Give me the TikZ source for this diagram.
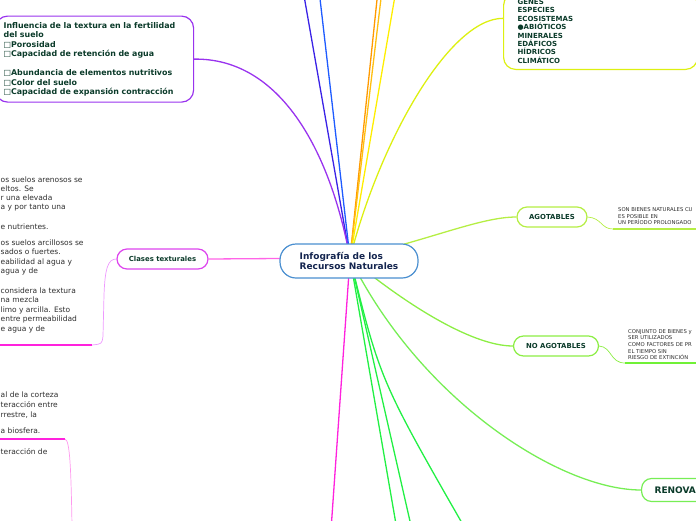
\documentclass[tikz,border=0pt]{standalone}
\usepackage{fontspec}
\setmainfont{DejaVu Sans}
\definecolor{txtgreen}{HTML}{0B3B2A}
\definecolor{bodygray}{HTML}{2E2E2E}
\definecolor{hubblue}{HTML}{4A8FD0}
\definecolor{hubtext}{HTML}{14254F}
\definecolor{fertviolet}{HTML}{9933EE}
\definecolor{lineviolet}{HTML}{3A22E6}
\definecolor{lineblue}{HTML}{1E5BFF}
\definecolor{lineorange}{HTML}{FF9A00}
\definecolor{lineamber}{HTML}{FFBF10}
\definecolor{lineyellow}{HTML}{FFEE00}
\definecolor{geneslime}{HTML}{DDF011}
\definecolor{agolime}{HTML}{B5EE44}
\definecolor{noagogreen}{HTML}{8CEE44}
\definecolor{renogreen}{HTML}{77EE55}
\definecolor{linegreen}{HTML}{22F044}
\definecolor{clasemag}{HTML}{DD44EE}
\definecolor{linemag}{HTML}{FF22DD}
\definecolor{softmag}{HTML}{EE99FF}
\definecolor{softpink}{HTML}{FF99EE}
\tikzset{
  branch/.style={line width=1.3pt},
  twig/.style={line width=0.7pt},
  topic/.style={draw, fill=white, line width=1.2pt, rounded corners=10pt, text=txtgreen,
    font=\bfseries\fontsize{6.9}{8.4}\selectfont},
  body/.style={anchor=west, inner sep=0pt, text=bodygray, font=\fontsize{7.5}{9}\selectfont},
  tiny/.style={anchor=south west, align=left, inner sep=0pt, text=bodygray,
    font=\fontsize{5.3}{6.6}\selectfont},
}
\begin{document}
\begin{tikzpicture}[x=1pt,y=-1pt]
\useasboundingbox (0,0) rectangle (696,520);
\clip (0,0) rectangle (696,520);

\coordinate (hub) at (350,258);

% loose ends off the page
\coordinate (up1) at (303,-10);
\coordinate (up2) at (319,-10);
\coordinate (up3) at (378,-10);
\coordinate (up4) at (382,-10);
\coordinate (up5) at (396,-10);
\coordinate (down1) at (331,530);
\coordinate (down2) at (397,530);
\coordinate (down3) at (412,530);
\coordinate (down4) at (466,530);

\draw [branch, lineviolet] (hub) -- (up1);
\draw [branch, lineblue] (hub) -- (up2);
\draw [branch, lineorange] (hub) -- (up3);
\draw [branch, lineamber] (hub) -- (up4);
\draw [branch, lineyellow] (hub) -- (up5);

\draw [branch, linemag] (hub) -- (down1);
\draw [branch, linegreen] (hub) -- (down2);
\draw [branch, linegreen] (hub) -- (down3);
\draw [branch, linegreen] (hub) .. controls (380,380) .. (down4);

% topics
\node [topic, draw=fertviolet, anchor=north west, align=left, text width=182pt,
  inner xsep=8pt, inner ysep=2pt, minimum height=86pt, rounded corners=12pt,
  font=\bfseries\fontsize{7.9}{9.5}\selectfont] (fertilidad) at (-5,15.5)
  {Influencia de la textura en la fertilidad\\del suelo\\□Porosidad\\□Capacidad de retención de agua\\[9.5pt]□Abundancia de elementos nutritivos\\□Color del suelo\\□Capacidad de expansión contracción};

\node [topic, draw=geneslime, anchor=south west, align=left, text width=166pt,
  inner xsep=14pt, inner ysep=6pt, rounded corners=12pt,
  font=\bfseries\fontsize{7}{8.4}\selectfont] (genes) at (503,70)
  {GENES\\ESPECIES\\ECOSISTEMAS\\●ABIÓTICOS\\MINERALES\\EDÁFICOS\\HÍDRICOS\\CLIMÁTICO};

\node [topic, draw=agolime, minimum width=70pt, minimum height=20pt] (agotables) at (552,217) {AGOTABLES};
\node [topic, draw=noagogreen, minimum width=85pt, minimum height=20pt] (noagotables) at (556,346) {NO AGOTABLES};
\node [topic, draw=renogreen, anchor=west, inner xsep=13pt, minimum height=23pt,
  font=\bfseries\fontsize{9}{10}\selectfont] (renovables) at (641,490) {RENOVA};
\node [topic, draw=clasemag, minimum width=91pt, minimum height=20pt] (clases) at (162.5,259) {Clases texturales};

% connectors
\draw [branch, fertviolet] (fertilidad.east) .. controls (280,58) and (330,150) .. (hub);
\draw [branch, geneslime] (hub) .. controls (380,140) and (450,18) .. ([yshift=13pt]genes.west);
\draw [branch, agolime] (hub) .. controls (430,240) and (480,217) .. (agotables.west);
\draw [branch, noagogreen] (hub) .. controls (400,300) and (470,346) .. (noagotables.west);
\draw [branch, renogreen] (hub) .. controls (420,400) and (560,490) .. (renovables.west);
\draw [branch, linemag!70!white] (hub) -- (clases.east);

\node [draw=hubblue, line width=1.2pt, fill=white, rounded corners=16pt, minimum width=138pt,
  minimum height=34pt, align=left, text=hubtext,
  font=\bfseries\fontsize{9}{10.5}\selectfont] (recursos) at (349,261) {Infografía de los\\Recursos Naturales};

% notes on the right
\coordinate (agoline) at (613,229);
\coordinate (agoend) at (700,229);
\draw [twig, agolime] (agotables.east) .. controls (602,218) and (601,229) .. (agoline);
\draw [branch, agolime] (agoline) -- (agoend);
\node [tiny] (agonote) at (618,225) {SON BIENES NATURALES CU\\ES POSIBLE EN\\UN PERÍODO PROLONGADO};

\coordinate (noagoline) at (625,363);
\coordinate (noagoend) at (700,363);
\draw [twig, noagogreen] (noagotables.east) .. controls (612,347) and (610,363) .. (noagoline);
\draw [branch, noagogreen!80!green] (noagoline) -- (noagoend);
\node [tiny] (noagonote) at (628,360) {CONJUNTO DE BIENES y\\SER UTILIZADOS\\COMO FACTORES DE PR\\EL TIEMPO SIN\\RIESGO DE EXTINCIÓN};

% notes on the left
\coordinate (claseline) at (92,345);
\coordinate (claseend) at (-5,345);
\draw [twig, softmag] (clases.west) .. controls (108,259) and (105,268) .. (104,295) -- (103,336) .. controls (102,344) .. (claseline);
\draw [branch, linemag] (claseline) -- (claseend);
\foreach \y/\txt [count=\i] in {180/os suelos arenosos se, 189/eltos. Se, 198/r una elevada,
  208/a y por tanto una, 227/e nutrientes., 243/os suelos arcillosos se, 252/sados o fuertes.,
  262/eabilidad al agua y, 271/agua y de, 291/considera la textura, 300/na mezcla,
  310/limo y arcilla. Esto, 319/entre permeabilidad, 329/e agua y de}
  \node [body] (clase\i) at (0.5,\y) {\txt};

\coordinate (bioline) at (65,439);
\coordinate (bioend) at (-5,439);
\coordinate (biodown) at (72,525);
\draw [branch, linemag] (bioend) -- (bioline);
\draw [twig, softpink] (bioline) .. controls (70,440) and (71,470) .. (biodown);
\foreach \y/\txt [count=\i] in {395/al de la corteza, 405/teracción entre, 415/{rrestre, la},
  431/a biosfera., 452/teracción de}
  \node [body] (bio\i) at (0.5,\y) {\txt};

\end{tikzpicture}
\end{document}
